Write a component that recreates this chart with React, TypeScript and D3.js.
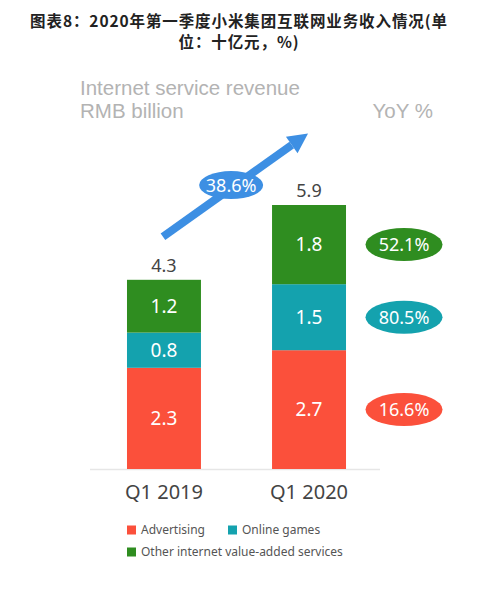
import * as d3 from 'd3';

const categories = ['Q1 2019', 'Q1 2020'];
const seriesNames = ['Advertising', 'Online games', 'Other internet value-added services'];
const advertising = [2.3, 2.7];
const onlineGames = [0.8, 1.5];
const otherVAS = [1.2, 1.8];
const totals = ['4.3', '5.9'];
const yoy = ['16.6%', '80.5%', '52.1%'];
const growth = '38.6%';

const COLORS = ['#fb503b', '#14a2ae', '#2f8d20'];
const FONT = '"Noto Sans", "Open Sans", sans-serif';

export default function App() {
  const width = 478;
  const height = 610;

  const x = d3.scaleBand<string>()
    .domain(categories)
    .range([90, 383])
    .paddingInner(0.49)
    .paddingOuter(0.255);
  const y = d3.scaleLinear().domain([0, 6]).range([469, 205]);

  const series = [advertising, onlineGames, otherVAS];
  const rows = categories.map((c, i) => ({ cat: c, a: advertising[i], g: onlineGames[i], o: otherVAS[i] }));
  const stack = d3.stack<any>().keys(['a', 'g', 'o'])(rows);

  const bw = x.bandwidth();
  const last = categories.length - 1;
  const yoyX = (x(categories[last]) ?? 0) + bw + 58;

  // arrow from above the first bar up past the second bar
  const ax0 = (x(categories[0]) ?? 0) + bw / 2 - 1;
  const ay0 = y(4.3) - 43;
  const ax1 = (x(categories[last]) ?? 0) + bw / 2 - 1;
  const ay1 = y(5.9) - 76;
  const ang = Math.atan2(ay1 - ay0, ax1 - ax0);
  const head = 20;
  const hw = 10;
  const bx = ax1 - head * Math.cos(ang);
  const by = ay1 - head * Math.sin(ang);
  const px = -Math.sin(ang);
  const py = Math.cos(ang);
  const arrowHead = `${ax1},${ay1} ${bx + px * hw},${by + py * hw} ${bx - px * hw},${by - py * hw}`;
  const mx = ax0 + (ax1 - ax0) * 0.47;
  const my = ay0 + (ay1 - ay0) * 0.5;

  return (
    <svg width={width} height={height} style={{ position: 'absolute', left: 0, top: 0, background: '#fff' }}>
      <g fontFamily='"Noto Sans CJK SC", sans-serif' fontWeight="bold" fontSize={15.5} fill="#222" textAnchor="middle">
        <text x={239} y={27} letterSpacing={0.9}>图表8：2020年第一季度小米集团互联网业务收入情况(单</text>
        <text x={239} y={48} letterSpacing={0.9}>位：十亿元，%)</text>
      </g>

      <g fontFamily='"Liberation Sans", Arial, sans-serif' fontSize={20.5} fill="#b3b3b3">
        <text x={80} y={95}>Internet service revenue</text>
        <text x={80} y={118}>RMB billion</text>
        <text x={433} y={118} textAnchor="end">YoY %</text>
      </g>

      <line x1={90} x2={380} y1={y(0) + 0.5} y2={y(0) + 0.5} stroke="#e6e6e6" strokeWidth={1.5} />

      {stack.map((layer, si) => (
        <g key={si} fill={COLORS[si]}>
          {layer.map((d, i) => (
            <rect key={i} x={x(categories[i])} y={y(d[1])} width={bw} height={y(d[0]) - y(d[1])} />
          ))}
          {layer.map((d, i) => (
            <text key={'t' + i} x={(x(categories[i]) ?? 0) + bw / 2} y={(y(d[0]) + y(d[1])) / 2}
              dy="0.36em" textAnchor="middle" fill="#fff" fontFamily={FONT} fontSize={19}>
              {series[si][i].toFixed(1)}
            </text>
          ))}
        </g>
      ))}

      {categories.map((c, i) => (
        <text key={c} x={(x(c) ?? 0) + bw / 2} y={y(d3.sum(series, s => s[i])) - 14} dy="0.36em"
          textAnchor="middle" fill="#444" fontFamily={FONT} fontSize={18}>{totals[i]}</text>
      ))}

      {categories.map(c => (
        <text key={'c' + c} x={(x(c) ?? 0) + bw / 2} y={492} dy="0.36em" textAnchor="middle"
          fill="#444" fontFamily={FONT} fontSize={20}>{c}</text>
      ))}

      {stack.map((layer, si) => {
        const d = layer[last];
        const cy = (y(d[0]) + y(d[1])) / 2;
        return (
          <g key={'y' + si}>
            <ellipse cx={yoyX} cy={cy} rx={38.5} ry={16.5} fill={COLORS[si]} />
            <text x={yoyX} y={cy} dy="0.36em" textAnchor="middle" fill="#fff" fontFamily={FONT} fontSize={18}>{yoy[si]}</text>
          </g>
        );
      })}

      <line x1={ax0} y1={ay0} x2={bx} y2={by} stroke="#3d8fe3" strokeWidth={8} />
      <polygon points={arrowHead} fill="#3d8fe3" />
      <ellipse cx={mx} cy={my} rx={32} ry={14} fill="#3d8fe3" />
      <text x={mx} y={my} dy="0.36em" textAnchor="middle" fill="#fff" fontFamily={FONT} fontSize={18}>{growth}</text>

      <g fontFamily={FONT} fontSize={12} fill="#555">
        {seriesNames.map((n, i) => {
          const lx = i === 1 ? 228 : 127;
          const ly = i === 2 ? 552 : 530;
          return (
            <g key={n}>
              <rect x={lx} y={ly - 4.5} width={9} height={9} fill={COLORS[i]} />
              <text x={lx + 14} y={ly} dy="0.36em">{n}</text>
            </g>
          );
        })}
      </g>
    </svg>
  );
}
